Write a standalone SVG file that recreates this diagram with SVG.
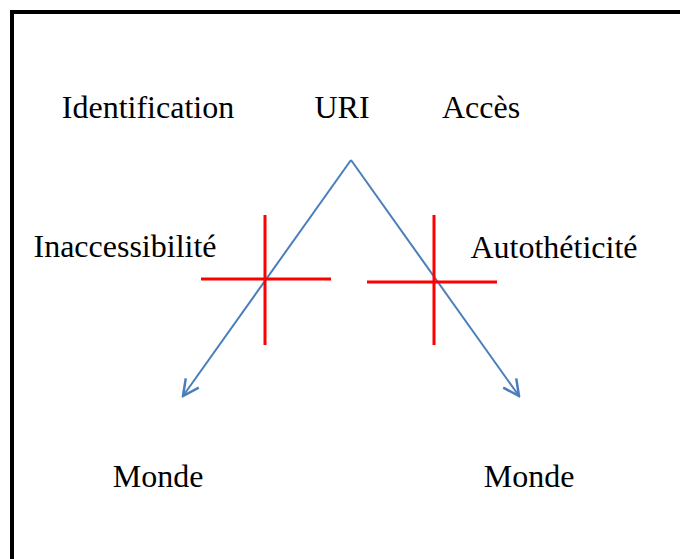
<svg xmlns="http://www.w3.org/2000/svg" width="680" height="559" viewBox="0 0 680 559">
<defs>
<style>
.t{font-family:"Liberation Serif","Times New Roman",serif;font-size:32px;fill:#000}
.c{stroke:#4A7EBB;stroke-width:2;fill:none}
.r{stroke:#FF0000;stroke-width:3;fill:none}
</style>
<marker id="ah" viewBox="0 0 20 20" refX="18" refY="10" markerWidth="20" markerHeight="20" markerUnits="userSpaceOnUse" orient="auto">
<path d="M2,2 L18,10 L2,18" fill="none" stroke="#4A7EBB" stroke-width="2.5"/>
</marker>
</defs>
<rect width="680" height="559" fill="#fff"/>
<path d="M12,565 V12 H690" fill="none" stroke="#000" stroke-width="4"/>
<g id="uri"><text class="t" x="342" y="118" text-anchor="middle">URI</text></g>
<g id="identification"><text class="t" x="148" y="118" text-anchor="middle">Identification</text></g>
<g id="acces"><text class="t" x="481" y="118" text-anchor="middle">Accès</text></g>
<g id="inaccessibilite"><text class="t" x="125" y="257" text-anchor="middle">Inaccessibilité</text></g>
<g id="autotheticite"><text class="t" x="554" y="258" text-anchor="middle">Autothéticité</text></g>
<g id="monde1"><text class="t" x="158" y="487" text-anchor="middle">Monde</text></g>
<g id="monde2"><text class="t" x="529" y="487" text-anchor="middle">Monde</text></g>
<g id="connectors">
<path class="c" d="M351,160 L183,396" marker-end="url(#ah)"/>
<path class="c" d="M351,160 L519,396" marker-end="url(#ah)"/>
</g>
<g id="cross1">
<path class="r" d="M265,215 V345 M201,279 H331"/>
</g>
<g id="cross2">
<path class="r" d="M434,215 V345 M367,282 H497"/>
</g>
</svg>
